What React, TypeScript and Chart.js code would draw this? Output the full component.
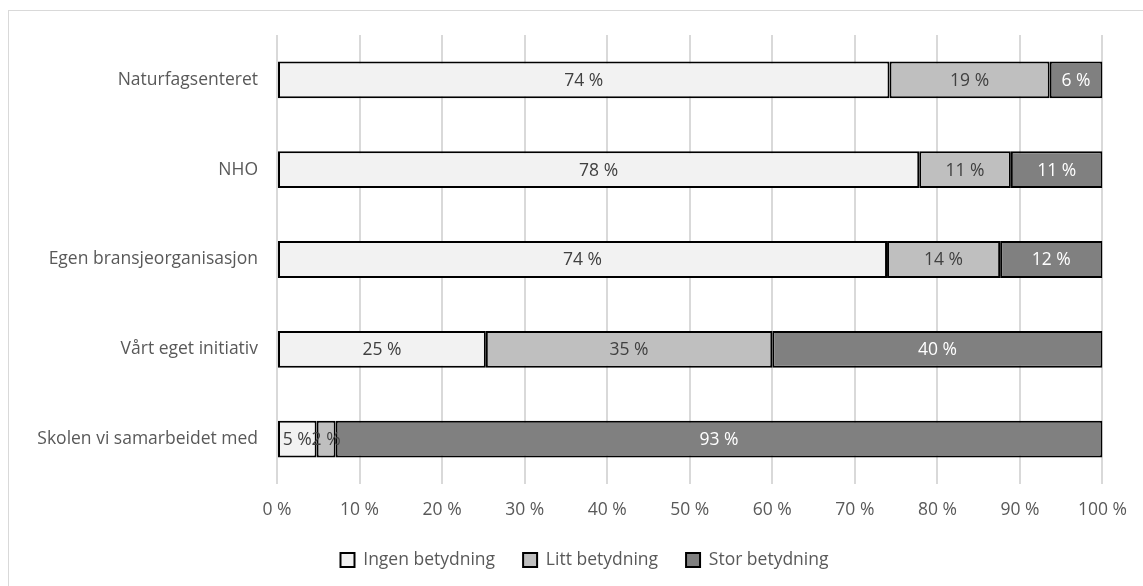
import React, { useEffect, useRef } from "react";
import { Chart, registerables } from "chart.js";

Chart.register(...registerables);

const categories = [
  "Naturfagsenteret",
  "NHO",
  "Egen bransjeorganisasjon",
  "Vårt eget initiativ",
  "Skolen vi samarbeidet med",
];
const ingenBetydning = [74.2, 77.8, 73.9, 25.3, 4.8];
const littBetydning = [19.4, 11.1, 13.7, 34.7, 2.3];
const storBetydning = [6.4, 11.1, 12.4, 40.0, 92.9];
const seriesNames = ["Ingen betydning", "Litt betydning", "Stor betydning"];
const xTicks = [0, 10, 20, 30, 40, 50, 60, 70, 80, 90, 100];

const FONT = "'Open Sans', sans-serif";
const TEXT = "#595959";
const FS = 17.5;
const LEGEND_PAD = 28;
const LEGEND_CENTER_Y = 549;
const LEGEND_SHIFT_X = 26;

const labelPlugin = {
  id: "segLabels",
  afterLayout(chart: any) {
    const lg = chart.legend;
    if (lg) {
      const top = LEGEND_CENTER_Y - LEGEND_PAD - FS / 2;
      lg.top = top;
      lg.bottom = top + lg.height;
      lg.left += LEGEND_SHIFT_X;
      lg.right += LEGEND_SHIFT_X;
    }
  },
  afterDatasetsDraw(chart: any) {
    const ctx = chart.ctx;
    ctx.save();
    ctx.font = `${FS}px ${FONT}`;
    ctx.textAlign = "center";
    ctx.textBaseline = "middle";
    chart.data.datasets.forEach((ds: any, di: number) => {
      const meta = chart.getDatasetMeta(di);
      meta.data.forEach((el: any, i: number) => {
        const v = ds.data[i];
        const cx = (el.x + el.base) / 2;
        ctx.fillStyle = ds.labelColor;
        ctx.fillText(`${Math.round(v)} %`, cx, el.y + 1);
      });
    });
    ctx.restore();
  },
};

export default function App() {
  const ref = useRef<HTMLCanvasElement>(null);
  useEffect(() => {
    if (!ref.current) return;
    const mk = (label: string, data: number[], bg: string, lc: string) => ({
      label,
      data,
      backgroundColor: bg,
      borderColor: "#000000",
      borderWidth: 2,
      borderSkipped: false,
      barPercentage: 0.82,
      categoryPercentage: 0.5,
      labelColor: lc,
    });
    const chart = new Chart(ref.current, {
      type: "bar",
      data: {
        labels: categories,
        datasets: [
          mk(seriesNames[0], ingenBetydning, "#F2F2F2", "#404040"),
          mk(seriesNames[1], littBetydning, "#BFBFBF", "#404040"),
          mk(seriesNames[2], storBetydning, "#808080", "#FFFFFF"),
        ] as any,
      },
      options: {
        indexAxis: "y",
        animation: false,
        responsive: false,
        maintainAspectRatio: false,
        layout: { padding: { top: 24, right: 35, left: 0, bottom: 6.5 } },
        scales: {
          x: {
            stacked: true,
            min: 0,
            max: 100,
            afterBuildTicks: (s: any) => {
              s.ticks = xTicks.map((v) => ({ value: v }));
            },
            afterFit: (s: any) => {
              s.height = 55;
            },
            grid: { color: "#D9D9D9", lineWidth: 2, drawTicks: false },
            border: { display: false },
            ticks: {
              color: TEXT,
              font: { family: FONT, size: FS },
              padding: 16,
              callback: (v: any) => `${v} %`,
            },
          },
          y: {
            stacked: true,
            afterFit: (s: any) => {
              s.width = 268;
            },
            grid: { display: false },
            border: { display: false },
            ticks: {
              color: TEXT,
              font: { family: FONT, size: FS },
              padding: 11,
            },
          },
        },
        plugins: {
          legend: {
            position: "bottom",
            labels: {
              color: TEXT,
              font: { family: FONT, size: FS },
              boxWidth: 14,
              boxHeight: 14,
              padding: LEGEND_PAD,
            },
          },
          tooltip: { enabled: false },
        },
      },
      plugins: [labelPlugin],
    });
    return () => chart.destroy();
  }, []);
  return (
    <div
      style={{
        position: "absolute",
        left: 8,
        top: 10,
        width: 1134,
        height: 575,
        overflow: "hidden",
        borderTop: "1px solid #D9D9D9",
        borderLeft: "1px solid #D9D9D9",
        background: "#fff",
      }}
    >
      <canvas ref={ref} width={1134} height={590} style={{ display: "block" }} />
    </div>
  );
}
